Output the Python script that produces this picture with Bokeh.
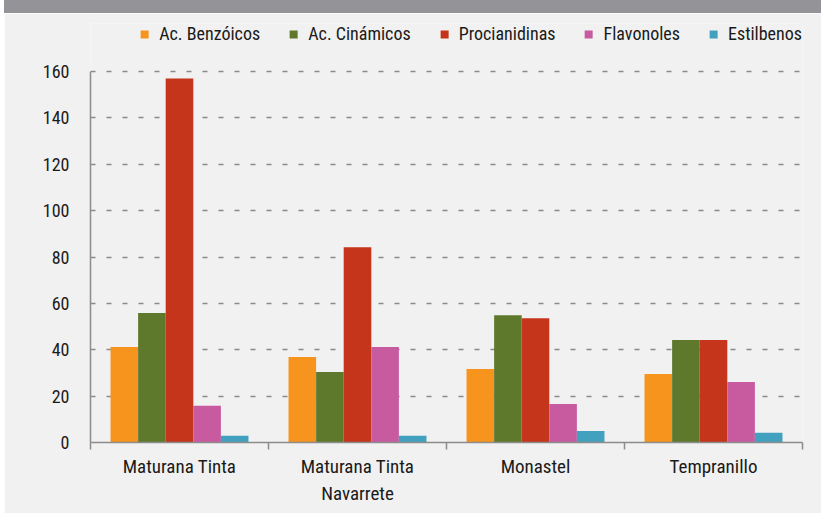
from bokeh.plotting import figure
from bokeh.models import ColumnDataSource, Range1d, FixedTicker, Legend, LegendItem, Div, Spacer
from bokeh.layouts import row, column
from bokeh.transform import dodge
from bokeh.embed import file_html
from bokeh.resources import INLINE

# ---- data ----
categories = ["Maturana Tinta", "Maturana Tinta\nNavarrete", "Monastel", "Tempranillo"]
series_names = ["Ac. Benzóicos", "Ac. Cinámicos", "Procianidinas", "Flavonoles", "Estilbenos"]
benzoicos = [41.2, 36.9, 31.7, 29.5]
cinamicos = [55.8, 30.4, 54.9, 44.2]
procianidinas = [157.0, 84.2, 53.6, 44.2]
flavonoles = [15.8, 41.2, 16.6, 26.1]
estilbenos = [2.9, 2.9, 5.0, 4.2]
y_ticks = [0, 20, 40, 60, 80, 100, 120, 140, 160]

colors = ["#f7941d", "#5e792c", "#c4351b", "#c85aa0", "#42a1be"]
FONT = "Roboto Condensed"
BG = "#f1f1f1"
TXT = "#1a1a1a"

# layout constants (pixels)
W, H = 817, 500
LEFT, RIGHT, BOTTOM, TOP = 86, 19, 71, 10
Y160_PX = 58          # pixel row (from figure top) of the 160 gridline
frame_h = H - BOTTOM - TOP
y_end = 160 * frame_h / (H - BOTTOM - Y160_PX)

centers = [i + 0.5 for i in range(len(categories))]
source = ColumnDataSource(dict(
    x=centers,
    benz=benzoicos, cin=cinamicos, proc=procianidinas, flav=flavonoles, esti=estilbenos,
))
cols = ["benz", "cin", "proc", "flav", "esti"]

p = figure(width=W, height=H, output_backend="svg", toolbar_location=None,
           x_range=Range1d(0, len(categories)), y_range=Range1d(0, y_end),
           min_border_left=LEFT, min_border_right=RIGHT, min_border_top=TOP, min_border_bottom=BOTTOM,
           background_fill_color=BG, border_fill_color=BG, outline_line_color=None,
           margin=0)

bw = 0.155
renderers = []
for k, (col, c) in enumerate(zip(cols, colors)):
    r = p.vbar(x=dodge("x", (k - 2) * bw), top=col, width=bw, bottom=0,
               source=source, fill_color=c, line_color=None)
    renderers.append(r)

# grid
p.xgrid.visible = False
p.ygrid.ticker = FixedTicker(ticks=y_ticks[1:])
p.ygrid.grid_line_color = "#8a8a8a"
p.ygrid.grid_line_width = 1.5
p.ygrid.grid_line_dash = "5 11"

# y axis
ya = p.yaxis[0]
ya.ticker = FixedTicker(ticks=y_ticks)
ya.bounds = (0, 160)
ya.axis_line_color = "#8c8c8c"
ya.axis_line_width = 1.5
ya.major_tick_out = 0
ya.major_tick_in = 0
ya.minor_tick_line_color = None
ya.major_label_standoff = 21
ya.major_label_text_font = FONT
ya.major_label_text_font_size = "18px"
ya.major_label_text_color = TXT

# x axis
xa = p.xaxis[0]
xa.ticker = FixedTicker(ticks=centers, minor_ticks=list(range(len(categories) + 1)))
xa.major_label_overrides = {c: lab for c, lab in zip(centers, categories)}
xa.axis_line_color = "#8c8c8c"
xa.axis_line_width = 1.5
xa.major_tick_line_color = None
xa.major_tick_out = 0
xa.major_tick_in = 0
xa.minor_tick_line_color = "#8c8c8c"
xa.minor_tick_line_width = 1.5
xa.minor_tick_out = 7
xa.minor_tick_in = 0
xa.major_label_standoff = 5
xa.major_label_text_font = FONT
xa.major_label_text_font_size = "19px"
xa.major_label_text_color = TXT

legend = Legend(items=[LegendItem(label=n, renderers=[r]) for n, r in zip(series_names, renderers)],
                orientation="horizontal", location="top_right",
                glyph_width=10, glyph_height=10, label_standoff=10, spacing=28,
                padding=0, margin=0,
                background_fill_alpha=0, border_line_color=None,
                label_text_font=FONT, label_text_font_size="18px", label_text_color=TXT)
p.add_layout(legend)

band = Div(text="", width=W, height=13, margin=0, styles={"background-color": "#939398"})
layout = row(Spacer(width=4, height=H + 13, margin=0),
             column(band, p, spacing=0, margin=0),
             spacing=0, margin=0)

open("out.html", "w").write(file_html(layout, INLINE))
